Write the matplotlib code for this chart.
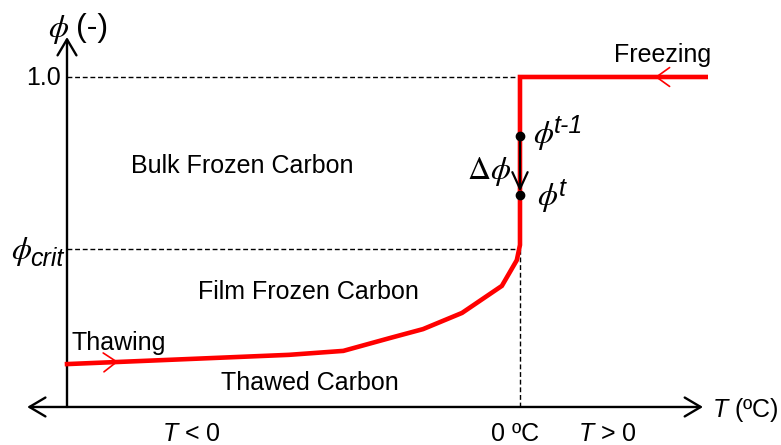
import matplotlib
matplotlib.use('Agg')
import matplotlib.pyplot as plt

# phase fraction path (T in arbitrary units, 0 = freezing point)
temp = [-10.0, -5.1, -3.9, -2.87, -2.14, -1.28, -0.40, -0.07, 0.0, 0.0, 4.1]
phi = [0.13, 0.158, 0.17, 0.209, 0.236, 0.285, 0.367, 0.445, 0.491, 1.0, 1.0]
phi_crit = 0.48
phi_prev = 0.822
phi_now = 0.643

plt.rcParams['font.family'] = ['Liberation Sans', 'DejaVu Sans']
plt.rcParams['mathtext.fontset'] = 'custom'
plt.rcParams['mathtext.rm'] = 'Liberation Sans'
plt.rcParams['mathtext.it'] = 'Liberation Sans:italic'

W, H = 781, 445
fig = plt.figure(figsize=(W / 100, H / 100), dpi=100)
ax = fig.add_axes([0, 0, 1, 1])
ax.set_xlim(-11.479, 5.762)
ax.set_ylim(-0.1152, 1.2333)
ax.axis('off')


def px(x, y):
    # pixel position -> figure fraction
    return x / W, 1 - y / H


def arrow(p0, p1, style, color, lw):
    ax.annotate('', xy=p1, xytext=p0,
                arrowprops=dict(arrowstyle=style, color=color, lw=lw,
                                mutation_scale=1, shrinkA=0, shrinkB=0))


t_min = -10.0
# axes
arrow((t_min, 0), (t_min, 1.121), '->,head_length=11.5,head_width=6.8', 'k', 1.7)
arrow((-10.88, 0), (4.04, 0), '<->,head_length=11.5,head_width=6.8', 'k', 1.7)

# guide lines
dash = (0, (3.5, 2))
ax.plot([t_min, 0], [1.0, 1.0], color='k', lw=1.0, ls=dash)
ax.plot([t_min, 0], [phi_crit, phi_crit], color='k', lw=1.0, ls=dash)
ax.plot([0, 0], [0, phi_crit], color='k', lw=1.0, ls=dash)

# path
ax.plot(temp, phi, color='#ff0000', lw=3.3, solid_joinstyle='miter', zorder=3)
arrow((3.5, 1.0), (2.98, 1.0), '->,head_length=9.5,head_width=6.8', '#ff0000', 1.2)
arrow((-9.3, 0.1345), (-8.87, 0.137), '->,head_length=9.5,head_width=6.8', '#ff0000', 1.2)

# phi step
arrow((0, phi_prev), (0, phi_now + 0.01), '->,head_length=12,head_width=5.5', 'k', 1.6)
ax.plot([0, 0], [phi_prev, phi_now], 'o', color='k', ms=6, zorder=5)

fs = 18
fig.text(*px(59, 30), r'$\phi$', math_fontfamily='stix', fontsize=23, ha='center', va='center')
fig.text(*px(76, 28), '(-)', fontsize=23, ha='left', va='center')
fig.text(*px(61, 78), '1.0', fontsize=fs, ha='right', va='center')
fig.text(*px(22, 251), r'$\phi$', math_fontfamily='stix', fontsize=23, ha='center', va='center')
fig.text(*px(30, 259), 'crit', fontsize=fs, style='italic', ha='left', va='center')

fig.text(*px(544, 135), r'$\phi$', math_fontfamily='stix', fontsize=23, ha='center', va='center')
fig.text(*px(554, 126), 't-1', fontsize=fs, style='italic', ha='left', va='center')
fig.text(*px(489, 172), r'$\Delta\phi$', math_fontfamily='stix', fontsize=23, ha='center', va='center')
fig.text(*px(548, 198), r'$\phi$', math_fontfamily='stix', fontsize=23, ha='center', va='center')
fig.text(*px(559, 189), 't', fontsize=fs, style='italic', ha='left', va='center')

fig.text(*px(242, 166), 'Bulk Frozen Carbon', fontsize=fs, ha='center', va='center')
fig.text(*px(308, 292), 'Film Frozen Carbon', fontsize=fs, ha='center', va='center')
fig.text(*px(310, 383), 'Thawed Carbon', fontsize=fs, ha='center', va='center')
fig.text(*px(72, 343), 'Thawing', fontsize=fs, ha='left', va='center')
fig.text(*px(663, 55), 'Freezing', fontsize=fs, ha='center', va='center')

fig.text(*px(712, 410), r'$T$ (ºC)', fontsize=fs, ha='left', va='center')
fig.text(*px(191, 434), r'$T$ < 0', fontsize=fs, ha='center', va='center')
fig.text(*px(515, 434), '0 ºC', fontsize=fs, ha='center', va='center')
fig.text(*px(607, 434), r'$T$ > 0', fontsize=fs, ha='center', va='center')

fig.savefig('out.png', dpi=100)
